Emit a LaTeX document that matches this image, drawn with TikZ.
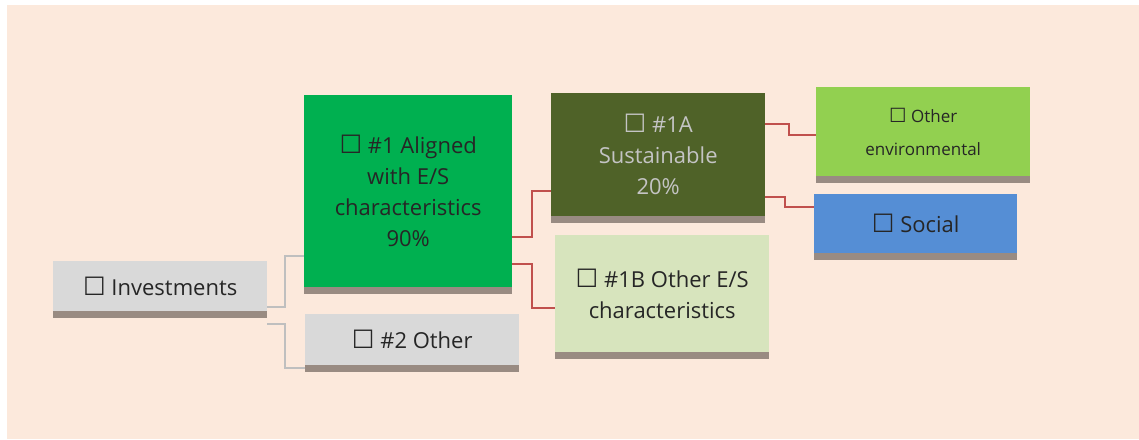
\documentclass[tikz,border=0pt]{standalone}
\usepackage{fontspec}
\setmainfont{Open Sans}
\newfontfamily\symfont{DejaVu Sans}
\usetikzlibrary{calc}
\definecolor{bgpeach}{HTML}{FCE9DC}
\definecolor{shadowc}{HTML}{998B82}
\definecolor{greybox}{HTML}{D9D9D9}
\definecolor{brightgreen}{HTML}{00B050}
\definecolor{darkolive}{HTML}{4F6228}
\definecolor{palegreen}{HTML}{D7E4BD}
\definecolor{limegreen}{HTML}{92D050}
\definecolor{socialblue}{HTML}{558ED5}
\definecolor{redline}{HTML}{C0504D}
\definecolor{greyline}{HTML}{BFBFBF}
\definecolor{darktext}{HTML}{262626}
\definecolor{lighttext}{HTML}{C4C4C4}
\newcommand{\bx}{{\symfont\scalebox{1.15}{☐}}}
\tikzset{
  boxnode/.style={anchor=north west, inner sep=0pt, align=center, text=darktext,
    font=\fontsize{22}{31}\selectfont},
  greyconn/.style={draw=greyline, line width=2pt},
  redconn/.style={draw=redline, line width=2pt},
}
\begin{document}
\begin{tikzpicture}[x=1pt,y=-1pt]
\useasboundingbox (0,0) rectangle (1139,439);
\fill[bgpeach] (7,5) rectangle (1139,439);

\node[boxnode, fill=greybox, minimum width=214pt, minimum height=50pt] (inv) at (53,261) {\bx\ Investments};
\node[boxnode, fill=brightgreen, minimum width=208pt, minimum height=192pt, text=black!85] (a1) at (304,95) {\bx\ \#1 Aligned\\with E/S\\characteristics\\90\%};
\node[boxnode, fill=greybox, minimum width=214pt, minimum height=51pt] (o2) at (305,314) {\bx\ \#2 Other};
\node[boxnode, fill=darkolive, minimum width=214pt, minimum height=123pt, text=lighttext] (s1a) at (551,93) {\bx\ \#1A\\Sustainable\\20\%};
\node[boxnode, fill=palegreen, minimum width=214pt, minimum height=117pt] (b1) at (555,235) {\bx\ \#1B Other E/S\\characteristics};
\node[boxnode, fill=limegreen, minimum width=214pt, minimum height=89pt, font=\fontsize{17}{33}\selectfont] (env) at (816,87) {\bx\ Other\\environmental};
\node[boxnode, fill=socialblue, minimum width=203pt, minimum height=59pt, text=black!85] (soc) at (814,194) {\bx\ Social};

\foreach \n in {inv,a1,o2,s1a,b1,env,soc}{
  \fill[shadowc] (\n.south west) rectangle ($(\n.south east)+(0,7)$);
}

\draw[greyconn] ([yshift=4pt]inv.south east) -- ++(18,0) |- ([yshift=31pt]a1.south west);
\draw[greyconn] ([yshift=-13pt]inv.south east) -- ++(18,0) |- ([yshift=-3pt]o2.south west);
\draw[redconn] ([yshift=50pt]a1.south east) -- ++(20,0) |- ([yshift=25pt]s1a.south west);
\draw[redconn] ([yshift=23pt]a1.south east) -- ++(20,0) |- ([yshift=44pt]b1.south west);
\draw[redconn] ([yshift=92pt]s1a.south east) -- ++(24,0) |- ([yshift=41pt]env.south west);
\draw[redconn] ([yshift=19pt]s1a.south east) -- ++(20,0) |- ([yshift=46pt]soc.south west);
\end{tikzpicture}
\end{document}
